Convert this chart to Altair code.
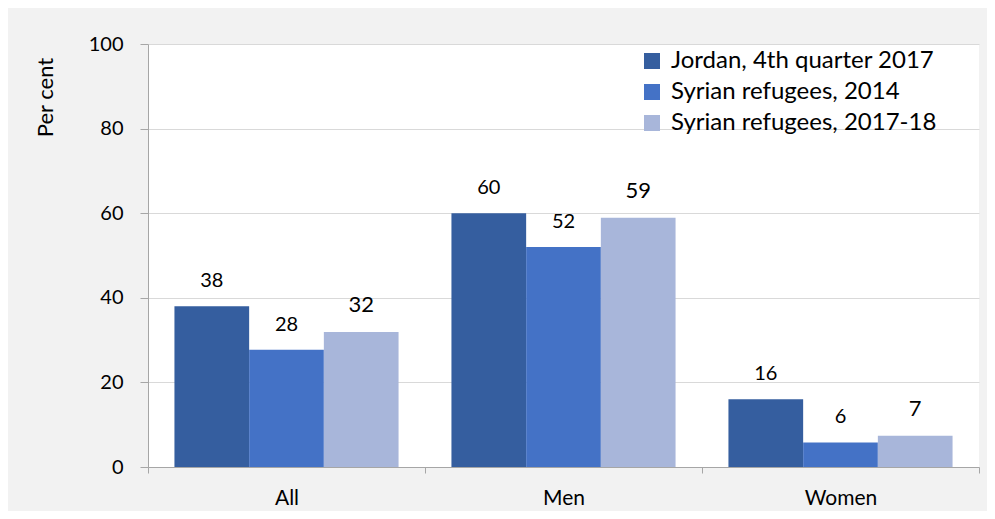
import altair as alt
import pandas as pd

FONT = "Lato"

groups = ["All", "Men", "Women"]
series = ["Jordan, 4th quarter 2017", "Syrian refugees, 2014", "Syrian refugees, 2017-18"]
colors = ["#355E9F", "#4472C6", "#A8B6DA"]

jordan = [38, 60, 16]
syr2014 = [27.7, 52, 5.8]
syr2017 = [31.9, 58.9, 7.4]

jordan_lbl = ["38", "60", "16"]
syr2014_lbl = ["28", "52", "6"]
syr2017_lbl = ["32", "59", "7"]

rows = []
for s, vals, lbls in zip(series, [jordan, syr2014, syr2017], [jordan_lbl, syr2014_lbl, syr2017_lbl]):
    for g, v, l in zip(groups, vals, lbls):
        rows.append({"group": g, "series": s, "value": v, "label": l})
df = pd.DataFrame(rows)

x_enc = alt.X(
    "group:N", sort=groups,
    scale=alt.Scale(paddingInner=0, paddingOuter=0),
    axis=alt.Axis(title=None, tickBand="extent", labelAngle=0, labelFont=FONT,
                  labelFontSize=21, labelColor="black", labelPadding=14, tickSize=6,
                  domainColor="#a6a6a6", tickColor="#a6a6a6", grid=False),
)
xoff_enc = alt.XOffset("series:N", sort=series,
                       scale=alt.Scale(paddingInner=0, paddingOuter=0.354))

bars = alt.Chart(df).mark_bar(strokeWidth=0).encode(
    x=x_enc,
    xOffset=xoff_enc,
    y=alt.Y("value:Q", scale=alt.Scale(domain=[0, 100]),
            axis=alt.Axis(values=[0, 20, 40, 60, 80, 100], title="Per cent",
                          labelFont=FONT, labelFontSize=20, labelColor="black",
                          labelPadding=17, tickSize=8, domainColor="#a6a6a6",
                          tickColor="#a6a6a6", gridColor="#d9d9d9",
                          titleFont=FONT, titleFontSize=22, titleFontWeight="normal",
                          titleColor="black", titleAngle=270, titleX=-103, titleY=53,
                          titleAlign="center", titleBaseline="middle")),
    color=alt.Color("series:N", sort=series,
                    scale=alt.Scale(domain=series, range=colors),
                    legend=alt.Legend(title=None, orient="none", legendX=492, legendY=5,
                                      symbolType="square", symbolSize=256,
                                      symbolStrokeWidth=0, symbolOpacity=1,
                                      labelFont=FONT, labelFontSize=24, labelLimit=0,
                                      labelColor="black", labelOffset=7,
                                      rowPadding=7)),
)

text_small = alt.Chart(df).transform_filter(
    alt.datum.series != series[2]
).mark_text(baseline="bottom", dy=-15, font=FONT, color="black", fontSize=20).encode(
    x=alt.X("group:N", sort=groups),
    xOffset=alt.XOffset("series:N", sort=series),
    y=alt.Y("value:Q"),
    text="label:N",
)

text_big = alt.Chart(df).transform_filter(
    alt.datum.series == series[2]
).mark_text(baseline="bottom", dy=-15, font=FONT, color="black", fontSize=22).encode(
    x=alt.X("group:N", sort=groups),
    xOffset=alt.XOffset("series:N", sort=series),
    y=alt.Y("value:Q"),
    text="label:N",
)

chart = (bars + text_small + text_big).properties(
    width=831, height=423,
    padding={"left": 140, "top": 36, "right": 8, "bottom": 44},
    autosize="none",
    background="#f2f2f2",
).configure_view(fill="white", strokeWidth=0)

chart.save("out.html", embed_options={"renderer": "svg", "actions": False})
